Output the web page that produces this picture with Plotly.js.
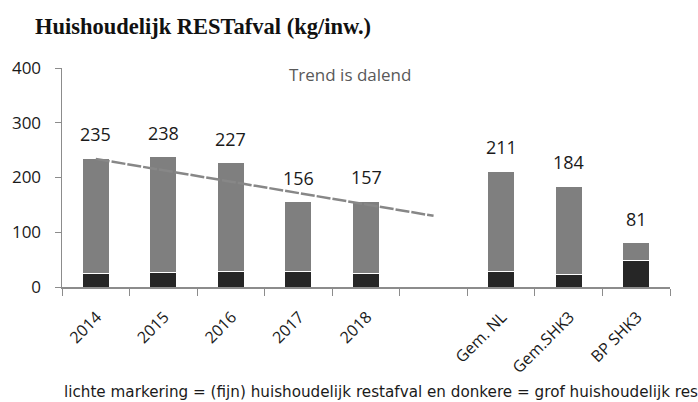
<!DOCTYPE html>
<html><head><meta charset="utf-8">
<script src="https://cdn.plot.ly/plotly-3.0.1.min.js"></script>
<style>body{margin:0;background:#fff;overflow:hidden}#chart{width:698px;height:402px}</style>
</head><body><div id="chart"></div>
<script>
const categories = ['2014','2015','2016','2017','2018',' ','Gem. NL','Gem.SHK3','BP SHK3'];
const barCats = ['2014','2015','2016','2017','2018','Gem. NL','Gem.SHK3','BP SHK3'];
const totals = [235, 238, 227, 156, 157, 211, 184, 81];
const grof = [24, 26, 28, 28, 24, 29, 22, 49];
const fijn = totals.map((t, i) => t - grof[i]);
const trendCats = ['2014', ' '];
const trendVals = [234, 130];
const yTicks = [0, 100, 200, 300, 400];
const footnote = 'lichte markering = (fijn) huishoudelijk restafval en donkere = grof huishoudelijk res';

const traces = [
  {type:'bar', x:barCats, y:grof, marker:{color:'#262626', line:{color:'#ffffff', width:1}}, width:0.4, hoverinfo:'skip'},
  {type:'bar', x:barCats, y:fijn, marker:{color:'#7f7f7f', line:{color:'#ffffff', width:1}}, width:0.4, hoverinfo:'skip'},
  {type:'scatter', mode:'lines', x:trendCats, y:trendVals, line:{color:'#878787', width:2.5, dash:'14px,2px'}, hoverinfo:'skip'}
];

const annotations = barCats.map((c, i) => ({
  x:categories.indexOf(c), y:totals[i], xref:'x', yref:'y', text:String(totals[i]), showarrow:false,
  yanchor:'bottom', yshift:10, font:{family:'Open Sans, sans-serif', size:18, color:'#1a1a1a'}
}));
annotations.push({x:0.474, y:0.972, xref:'paper', yref:'paper', text:'Trend is dalend', showarrow:false,
  xanchor:'center', yanchor:'middle', font:{family:'Open Sans, sans-serif', size:17, color:'#595959'}});
annotations.push({x:0, y:-0.48, xref:'paper', yref:'paper', xanchor:'left', yanchor:'middle',
  text:footnote, showarrow:false,
  font:{family:'DejaVu Sans, sans-serif', size:15.2, color:'#1a1a1a'}});

const layout = {
  width:698, height:402, barmode:'stack', showlegend:false,
  paper_bgcolor:'#fff', plot_bgcolor:'#fff',
  margin:{l:62, r:28, t:68, b:115},
  title:{text:'<b>Huishoudelijk RESTafval (kg/inw.)</b>', x:0.05, xanchor:'left', y:0.935, yanchor:'middle',
    font:{family:'Liberation Serif, serif', size:22.5, color:'#111'}},
  xaxis:{type:'category', categoryorder:'array', categoryarray:categories, range:[-0.5, 8.5],
    showline:true, linecolor:'#8c8c8c', linewidth:1.5, ticks:'outside', tickson:'boundaries',
    ticklen:7, tickcolor:'#8c8c8c', tickangle:-45, showgrid:false, zeroline:false,
    ticklabelstandoff:13, ticklabelshift:1,
    tickfont:{family:'Open Sans, sans-serif', size:16, color:'#1a1a1a'}},
  yaxis:{range:[0, 400], tickvals:yTicks, ticktext:yTicks.map(String), showline:true, linecolor:'#8c8c8c', linewidth:1.5,
    ticks:'outside', ticklen:6, tickcolor:'#8c8c8c', showgrid:false, zeroline:false, ticklabelstandoff:10,
    tickfont:{family:'Open Sans, sans-serif', size:17, color:'#1a1a1a'}},
  annotations:annotations
};

Plotly.newPlot('chart', traces, layout, {displayModeBar:false, staticPlot:true});
</script></body></html>
